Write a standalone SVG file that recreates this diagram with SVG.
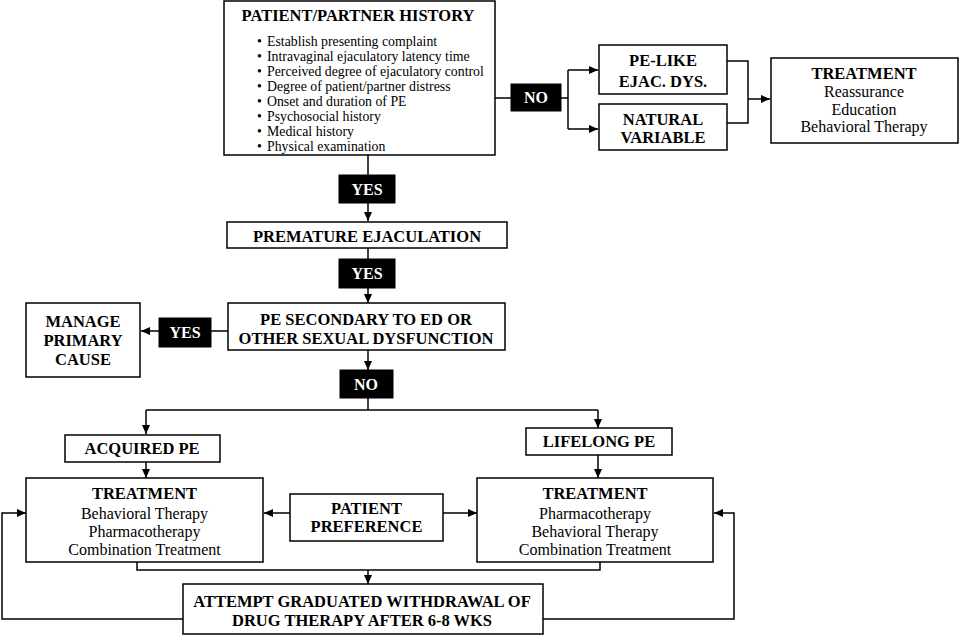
<svg xmlns="http://www.w3.org/2000/svg" width="963" height="635" viewBox="0 0 963 635" font-family="Liberation Serif, serif">
<style>
.box{fill:#fff;stroke:#000;stroke-width:1.5}
.blk{fill:#000;stroke:#000;stroke-width:1}
.b{font-weight:bold;font-size:16.5px;text-anchor:middle}
.w{font-weight:bold;font-size:16px;text-anchor:middle;fill:#fff}
.n{font-size:16px;text-anchor:middle}
.li{font-size:13.8px}
.c{fill:none;stroke:#000;stroke-width:1.5}
</style>
<defs>
<marker id="ah" markerUnits="userSpaceOnUse" markerWidth="10" markerHeight="10" refX="9" refY="5" orient="auto">
<path d="M0,1 L9,5 L0,9 Z" fill="#000"/>
</marker>
</defs>
<rect width="963" height="635" fill="#fff"/>
<g id="connectors">
<path class="c" d="M495,98 H511"/>
<path class="c" d="M561,98 H568"/>
<path class="c" d="M568,70 V129"/>
<path class="c" d="M568,70 H598" marker-end="url(#ah)"/>
<path class="c" d="M568,129 H598" marker-end="url(#ah)"/>
<path class="c" d="M727,61 H748 V123 H727"/>
<path class="c" d="M748,99 H770" marker-end="url(#ah)"/>
<path class="c" d="M368,155 V175"/>
<path class="c" d="M368,203 V221" marker-end="url(#ah)"/>
<path class="c" d="M368,248 V259"/>
<path class="c" d="M368,288 V303" marker-end="url(#ah)"/>
<path class="c" d="M228,331 H211"/>
<path class="c" d="M159,331 H141" marker-end="url(#ah)"/>
<path class="c" d="M368,350 V370" marker-end="url(#ah)"/>
<path class="c" d="M368,398 V410"/>
<path class="c" d="M146,410 H598"/>
<path class="c" d="M146,410 V434" marker-end="url(#ah)"/>
<path class="c" d="M598,410 V428" marker-end="url(#ah)"/>
<path class="c" d="M146,462 V478" marker-end="url(#ah)"/>
<path class="c" d="M598,455 V478" marker-end="url(#ah)"/>
<path class="c" d="M290,513 H264" marker-end="url(#ah)"/>
<path class="c" d="M443,513 H477" marker-end="url(#ah)"/>
<path class="c" d="M137,562 V570 H600 V562"/>
<path class="c" d="M368,570 V584" marker-end="url(#ah)"/>
<path class="c" d="M183,619 H2 V513 H26" marker-end="url(#ah)"/>
<path class="c" d="M543,619 H734 V513 H714" marker-end="url(#ah)"/>
</g>
<g id="history">
<rect class="box" x="224" y="1" width="271" height="154"/>
<text class="b" x="358" y="20.5">PATIENT/PARTNER HISTORY</text>
<g class="li">
<text x="257" y="46">•</text><text x="267" y="46">Establish presenting complaint</text>
<text x="257" y="61">•</text><text x="267" y="61">Intravaginal ejaculatory latency time</text>
<text x="257" y="76">•</text><text x="267" y="76">Perceived degree of ejaculatory control</text>
<text x="257" y="91">•</text><text x="267" y="91">Degree of patient/partner distress</text>
<text x="257" y="106">•</text><text x="267" y="106">Onset and duration of PE</text>
<text x="257" y="121">•</text><text x="267" y="121">Psychosocial history</text>
<text x="257" y="136">•</text><text x="267" y="136">Medical history</text>
<text x="257" y="151">•</text><text x="267" y="151">Physical examination</text>
</g>
</g>
<g id="no1">
<rect class="blk" x="511" y="84" width="50" height="27"/>
<text class="w" x="536" y="103">NO</text>
</g>
<g id="pelike">
<rect class="box" x="599" y="45" width="128" height="49"/>
<text class="b" x="663" y="66">PE-LIKE</text>
<text class="b" x="663" y="87">EJAC. DYS.</text>
</g>
<g id="natural">
<rect class="box" x="599" y="104" width="128" height="46"/>
<text class="b" x="663" y="124.5">NATURAL</text>
<text class="b" x="663" y="142.5">VARIABLE</text>
</g>
<g id="treatment1">
<rect class="box" x="771" y="58" width="187" height="85"/>
<text class="b" x="864" y="78.5">TREATMENT</text>
<text class="n" x="864" y="97">Reassurance</text>
<text class="n" x="864" y="114.5">Education</text>
<text class="n" x="864" y="132">Behavioral Therapy</text>
</g>
<g id="yes1">
<rect class="blk" x="339" y="175" width="56" height="28"/>
<text class="w" x="367" y="194.5">YES</text>
</g>
<g id="premature">
<rect class="box" x="227" y="222" width="280" height="26"/>
<text class="b" x="367" y="242">PREMATURE EJACULATION</text>
</g>
<g id="yes2">
<rect class="blk" x="339" y="259" width="56" height="29"/>
<text class="w" x="367" y="279">YES</text>
</g>
<g id="secondary">
<rect class="box" x="228" y="303" width="277" height="47"/>
<text class="b" x="366" y="324.5">PE SECONDARY TO ED OR</text>
<text class="b" x="366" y="343.5">OTHER SEXUAL DYSFUNCTION</text>
</g>
<g id="yes3">
<rect class="blk" x="159" y="318" width="52" height="29"/>
<text class="w" x="185" y="338">YES</text>
</g>
<g id="manage">
<rect class="box" x="26" y="303" width="114" height="74"/>
<text class="b" x="83" y="327">MANAGE</text>
<text class="b" x="83" y="345.5">PRIMARY</text>
<text class="b" x="83" y="364.5">CAUSE</text>
</g>
<g id="no2">
<rect class="blk" x="340" y="370" width="53" height="28"/>
<text class="w" x="366" y="389.5">NO</text>
</g>
<g id="acquired">
<rect class="box" x="65" y="435" width="155" height="27"/>
<text class="b" x="142" y="453.5">ACQUIRED PE</text>
</g>
<g id="lifelong">
<rect class="box" x="526" y="428" width="146" height="27"/>
<text class="b" x="599" y="447">LIFELONG PE</text>
</g>
<g id="treatment2">
<rect class="box" x="26" y="478" width="237" height="84"/>
<text class="b" x="144.5" y="499">TREATMENT</text>
<text class="n" x="144.5" y="518.5">Behavioral Therapy</text>
<text class="n" x="144.5" y="536.5">Pharmacotherapy</text>
<text class="n" x="144.5" y="554.5">Combination Treatment</text>
</g>
<g id="preference">
<rect class="box" x="290" y="494" width="153" height="47"/>
<text class="b" x="366.5" y="513.5">PATIENT</text>
<text class="b" x="366.5" y="531.5">PREFERENCE</text>
</g>
<g id="treatment3">
<rect class="box" x="477" y="478" width="236" height="84"/>
<text class="b" x="595" y="499">TREATMENT</text>
<text class="n" x="595" y="518.5">Pharmacotherapy</text>
<text class="n" x="595" y="536.5">Behavioral Therapy</text>
<text class="n" x="595" y="554.5">Combination Treatment</text>
</g>
<g id="attempt">
<rect class="box" x="183" y="584" width="360" height="50"/>
<text class="b" x="362" y="607">ATTEMPT GRADUATED WITHDRAWAL OF</text>
<text class="b" x="362" y="625.5">DRUG THERAPY AFTER 6-8 WKS</text>
</g>
</svg>
